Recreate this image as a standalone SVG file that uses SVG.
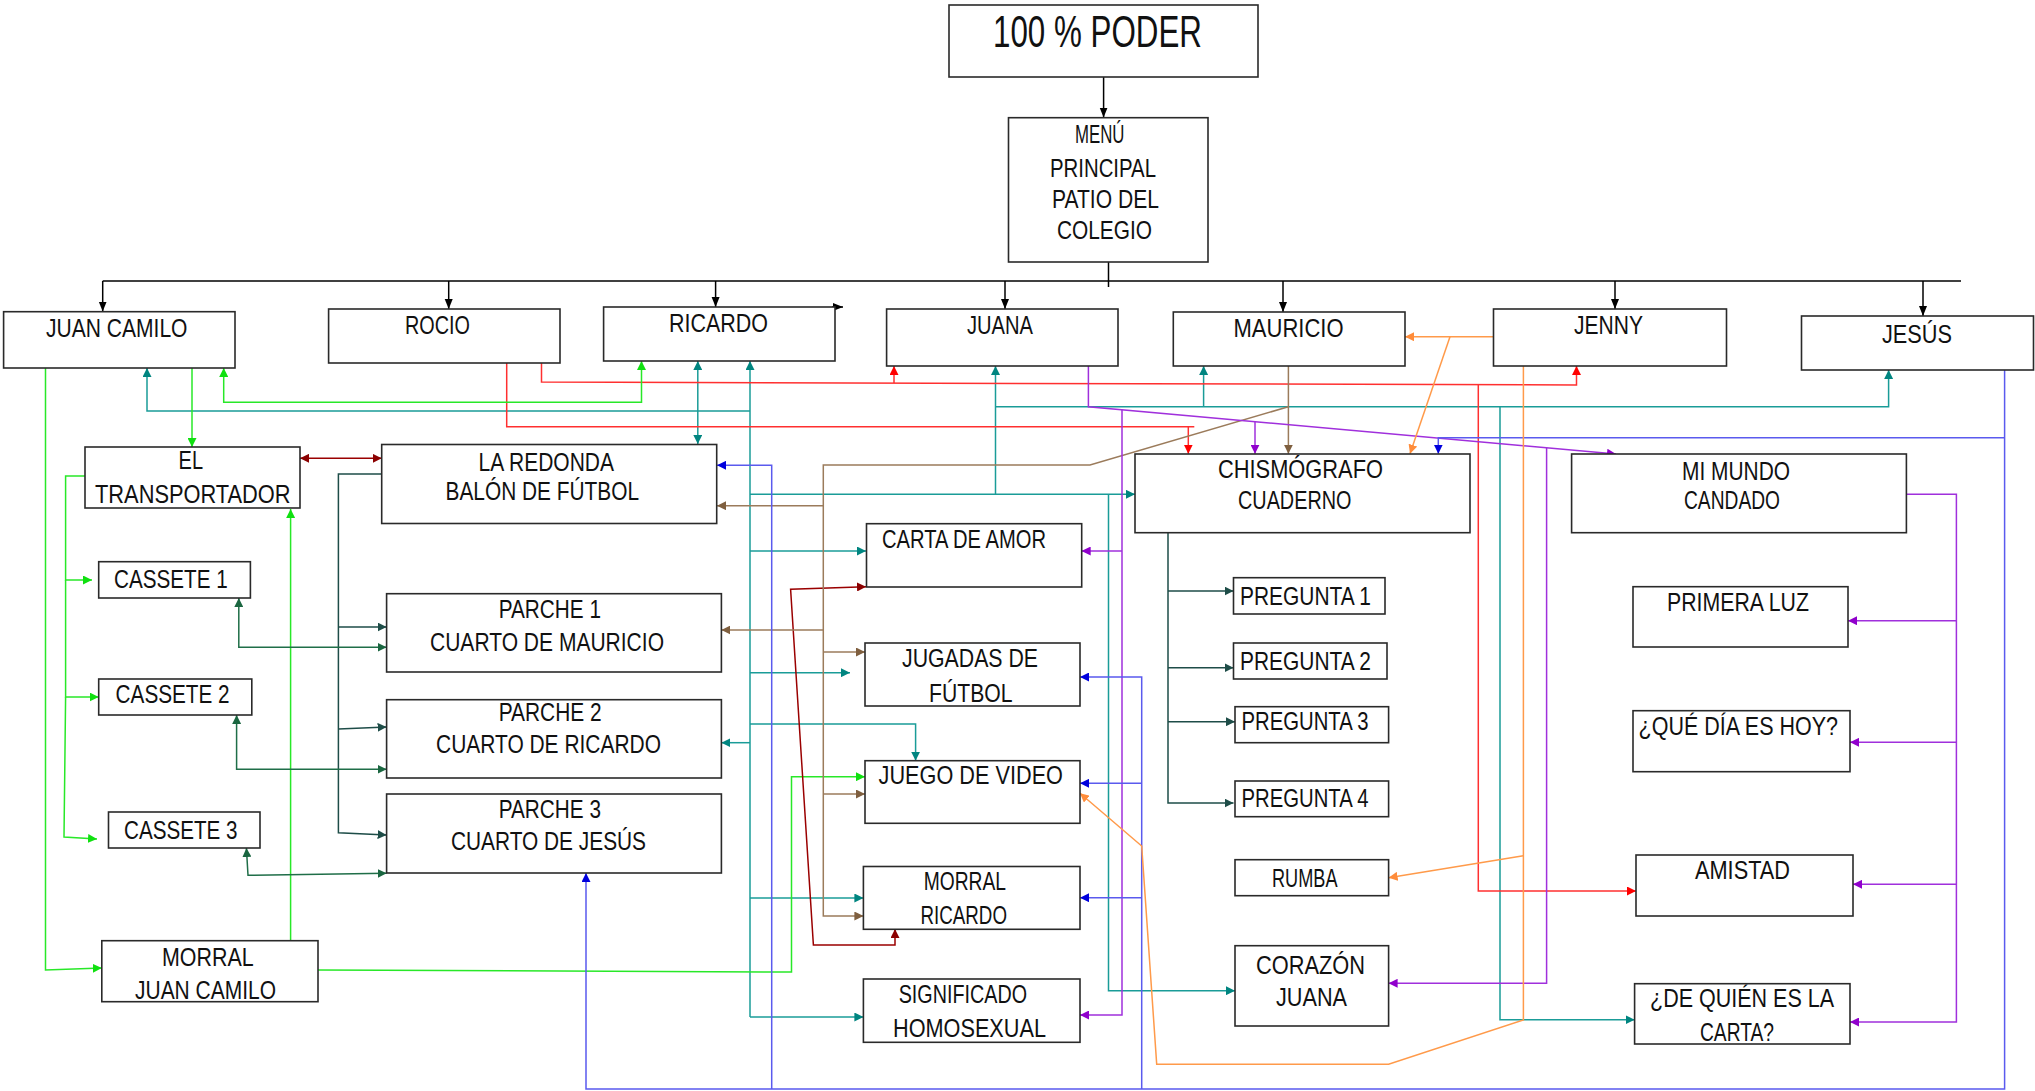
<svg xmlns="http://www.w3.org/2000/svg" width="2035" height="1091" viewBox="0 0 2035 1091">
<style>
.box{fill:#fff;stroke:#2a2a2a;stroke-width:1.6}
.t{font-family:"Liberation Sans Narrow","Liberation Sans",Arial,sans-serif;font-size:25px;fill:#111}
.c{fill:none;stroke-width:1.5}
.k{stroke:#000}
.tl{stroke:#1a9c98}
.gr{stroke:#28e828}
.rd{stroke:#ff3030}
.mr{stroke:#9a0000}
.br{stroke:#9b7b5b}
.pu{stroke:#a030dc}
.bl{stroke:#5a5aee}
.or{stroke:#ff9a4a}
.ds{stroke:#1e4d48}
.dg{stroke:#1f6e48}
</style>
<defs>
<marker id="ak" viewBox="0 0 10 10" refX="10" refY="5" markerWidth="10" markerHeight="10" markerUnits="userSpaceOnUse" orient="auto-start-reverse"><path d="M0,1 L10,5 L0,9 z" fill="#000"/></marker>
<marker id="at" viewBox="0 0 10 10" refX="10" refY="5" markerWidth="9" markerHeight="9" markerUnits="userSpaceOnUse" orient="auto-start-reverse"><path d="M0,0 L10,5 L0,10 z" fill="#008580"/></marker>
<marker id="ag" viewBox="0 0 10 10" refX="10" refY="5" markerWidth="9" markerHeight="9" markerUnits="userSpaceOnUse" orient="auto-start-reverse"><path d="M0,0 L10,5 L0,10 z" fill="#10e010"/></marker>
<marker id="ar" viewBox="0 0 10 10" refX="10" refY="5" markerWidth="9" markerHeight="9" markerUnits="userSpaceOnUse" orient="auto-start-reverse"><path d="M0,0 L10,5 L0,10 z" fill="#ff0000"/></marker>
<marker id="am" viewBox="0 0 10 10" refX="10" refY="5" markerWidth="9" markerHeight="9" markerUnits="userSpaceOnUse" orient="auto-start-reverse"><path d="M0,0 L10,5 L0,10 z" fill="#8b0000"/></marker>
<marker id="ab" viewBox="0 0 10 10" refX="10" refY="5" markerWidth="9" markerHeight="9" markerUnits="userSpaceOnUse" orient="auto-start-reverse"><path d="M0,0 L10,5 L0,10 z" fill="#7f5f3f"/></marker>
<marker id="ap" viewBox="0 0 10 10" refX="10" refY="5" markerWidth="9" markerHeight="9" markerUnits="userSpaceOnUse" orient="auto-start-reverse"><path d="M0,0 L10,5 L0,10 z" fill="#9000cc"/></marker>
<marker id="abl" viewBox="0 0 10 10" refX="10" refY="5" markerWidth="9" markerHeight="9" markerUnits="userSpaceOnUse" orient="auto-start-reverse"><path d="M0,0 L10,5 L0,10 z" fill="#0000dd"/></marker>
<marker id="ao" viewBox="0 0 10 10" refX="10" refY="5" markerWidth="9" markerHeight="9" markerUnits="userSpaceOnUse" orient="auto-start-reverse"><path d="M0,0 L10,5 L0,10 z" fill="#ff8c3a"/></marker>
<marker id="ads" viewBox="0 0 10 10" refX="10" refY="5" markerWidth="9" markerHeight="9" markerUnits="userSpaceOnUse" orient="auto-start-reverse"><path d="M0,0 L10,5 L0,10 z" fill="#1e4d48"/></marker>
<marker id="adg" viewBox="0 0 10 10" refX="10" refY="5" markerWidth="9" markerHeight="9" markerUnits="userSpaceOnUse" orient="auto-start-reverse"><path d="M0,0 L10,5 L0,10 z" fill="#1a6640"/></marker>
</defs>
<rect width="2035" height="1091" fill="#fff"/>

<g id="connectors">
<!-- black -->
<path class="c k" d="M1103.6,77 V117.5" marker-end="url(#ak)"/>
<path class="c k" d="M1108.5,262 V287"/>
<path class="c k" d="M102.7,281 H1961"/>
<path class="c k" d="M102.7,281 V311.5" marker-end="url(#ak)"/>
<path class="c k" d="M448.7,281 V309" marker-end="url(#ak)"/>
<path class="c k" d="M715.6,281 V307" marker-end="url(#ak)"/>
<path class="c k" d="M1005,281 V309" marker-end="url(#ak)"/>
<path class="c k" d="M1283,281 V312" marker-end="url(#ak)"/>
<path class="c k" d="M1615,281 V309" marker-end="url(#ak)"/>
<path class="c k" d="M1923,281 V316" marker-end="url(#ak)"/>
<path class="c k" d="M832,307 H843" marker-end="url(#ak)"/>

<!-- teal -->
<path class="c tl" d="M750,1017 V361" marker-end="url(#at)"/>
<path class="c tl" d="M750,411 H147 V368" marker-end="url(#at)"/>
<path class="c tl" d="M750,551 H866" marker-end="url(#at)"/>
<path class="c tl" d="M750,672.7 H850" marker-end="url(#at)"/>
<path class="c tl" d="M750,494.3 H1135" marker-end="url(#at)"/>
<path class="c tl" d="M750,724 H915.6 V760.7" marker-end="url(#at)"/>
<path class="c tl" d="M750,742.7 H721.4" marker-end="url(#at)"/>
<path class="c tl" d="M750,898 H863.4" marker-end="url(#at)"/>
<path class="c tl" d="M750,1017 H863.4" marker-end="url(#at)"/>
<path class="c tl" d="M697.8,361 V444" marker-start="url(#at)" marker-end="url(#at)"/>
<path class="c tl" d="M995.5,494.3 V366" marker-end="url(#at)"/>
<path class="c tl" d="M995.5,406.7 H1888.6 V370" marker-end="url(#at)"/>
<path class="c tl" d="M1203.6,406.7 V366" marker-end="url(#at)"/>
<path class="c tl" d="M1500,406.7 V1019.7 H1634.6" marker-end="url(#at)"/>
<path class="c tl" d="M1108.5,494.3 V990.7 H1235" marker-end="url(#at)"/>

<!-- red -->
<path class="c rd" d="M541.5,363 V382 L1576.5,385 V366" marker-end="url(#ar)"/>
<path class="c rd" d="M894,383 V366" marker-end="url(#ar)"/>
<path class="c rd" d="M1478.3,384.5 V891 H1636" marker-end="url(#ar)"/>
<path class="c rd" d="M506.7,363 V426.7 H1194.3"/>
<path class="c rd" d="M1188.3,426.7 V453.7" marker-end="url(#ar)"/>

<!-- bright green -->
<path class="c gr" d="M45.5,368 V970 L101.8,968" marker-end="url(#ag)"/>
<path class="c gr" d="M192,368 V447" marker-end="url(#ag)"/>
<path class="c gr" d="M223.7,368 V402.3 H641.5 V361" marker-start="url(#ag)" marker-end="url(#ag)"/>
<path class="c gr" d="M85,476 H65.6 V580 H92" marker-end="url(#ag)"/>
<path class="c gr" d="M65.6,580 V697 H98.7" marker-end="url(#ag)"/>
<path class="c gr" d="M65.6,697 L64,837 L97,839" marker-end="url(#ag)"/>
<path class="c gr" d="M290.6,940 V509" marker-end="url(#ag)"/>
<path class="c gr" d="M318,970 L791.5,972 V776.7 H865" marker-end="url(#ag)"/>

<!-- dark slate -->
<path class="c ds" d="M381.7,474 H338.4 V832.7 L386.6,835" marker-end="url(#ads)"/>
<path class="c ds" d="M338.4,627 H386.6" marker-end="url(#ads)"/>
<path class="c ds" d="M338.4,729 L386.6,727" marker-end="url(#ads)"/>
<path class="c ds" d="M1168,532.7 V803 H1233.5" marker-end="url(#ads)"/>
<path class="c ds" d="M1168,591 H1233.5" marker-end="url(#ads)"/>
<path class="c ds" d="M1168,667.7 H1233.5" marker-end="url(#ads)"/>
<path class="c ds" d="M1168,721.7 H1235" marker-end="url(#ads)"/>

<!-- dark green -->
<path class="c dg" d="M238.8,598 V647.3 H386.6" marker-start="url(#adg)" marker-end="url(#adg)"/>
<path class="c dg" d="M236.6,715 V769.3 H386.6" marker-start="url(#adg)" marker-end="url(#adg)"/>
<path class="c dg" d="M246.4,848 L248,875.3 L386.6,873.3" marker-start="url(#adg)" marker-end="url(#adg)"/>

<!-- maroon -->
<path class="c mr" d="M300,458.3 H381.7" marker-start="url(#am)" marker-end="url(#am)"/>
<path class="c mr" d="M895,929 V945 H813.4 L790.6,589.3 L866,586.7" marker-start="url(#am)" marker-end="url(#am)"/>

<!-- brown -->
<path class="c br" d="M1288.4,366 V453.7" marker-end="url(#ab)"/>
<path class="c br" d="M1288.4,406.7 L1090,465 H823.3 V916 H863.4" marker-end="url(#ab)"/>
<path class="c br" d="M823.3,505.7 H717" marker-end="url(#ab)"/>
<path class="c br" d="M823.3,630 H721.4" marker-end="url(#ab)"/>
<path class="c br" d="M823.3,652 H865" marker-end="url(#ab)"/>
<path class="c br" d="M823.3,794 H865" marker-end="url(#ab)"/>

<!-- purple -->
<path class="c pu" d="M1088.4,366 V406.7 L1616,454" marker-end="url(#ap)"/>
<path class="c pu" d="M1122,409.8 V1015 H1080" marker-end="url(#ap)"/>
<path class="c pu" d="M1122,551 H1081.7" marker-end="url(#ap)"/>
<path class="c pu" d="M1255,421.7 V453.7" marker-end="url(#ap)"/>
<path class="c pu" d="M1546.6,448 V983.3 H1388.6" marker-end="url(#ap)"/>
<path class="c pu" d="M1906.4,494.3 H1956.4 V1022 H1850" marker-end="url(#ap)"/>
<path class="c pu" d="M1956.4,620.7 H1848" marker-end="url(#ap)"/>
<path class="c pu" d="M1956.4,742.3 H1850" marker-end="url(#ap)"/>
<path class="c pu" d="M1956.4,884.3 H1853" marker-end="url(#ap)"/>

<!-- blue -->
<path class="c bl" d="M2004.6,370 V1089 H586 V873" marker-end="url(#abl)"/>
<path class="c bl" d="M2004.6,437.7 H1438.3 V453.7" marker-end="url(#abl)"/>
<path class="c bl" d="M771.7,1089 V465.3 H717" marker-end="url(#abl)"/>
<path class="c bl" d="M1141.7,1089 V677 H1080" marker-end="url(#abl)"/>
<path class="c bl" d="M1141.7,783.3 H1080" marker-end="url(#abl)"/>
<path class="c bl" d="M1141.7,897.7 H1080" marker-end="url(#abl)"/>

<!-- orange -->
<path class="c or" d="M1493.5,336.7 H1405" marker-end="url(#ao)"/>
<path class="c or" d="M1450,336.7 L1410,453.7" marker-end="url(#ao)"/>
<path class="c or" d="M1523.4,366 V1020 L1388.6,1064.3 H1156.7 L1141.7,846 L1080,793.3" marker-end="url(#ao)"/>
<path class="c or" d="M1523.4,855.7 L1388.6,877.7" marker-end="url(#ao)"/>
</g>

<g id="n-poder"><rect class="box" x="949" y="5" width="309" height="72"/><text class="t" style="font-size:44px" x="993" y="46.7" textLength="209" lengthAdjust="spacingAndGlyphs">100 % PODER</text></g>
<g id="n-menu"><rect class="box" x="1008.5" y="117.7" width="199.5" height="144.3"/>
<text class="t" style="font-size:26px" x="1075" y="143" textLength="49.5" lengthAdjust="spacingAndGlyphs">MENÚ</text>
<text class="t" style="font-size:26px" x="1050" y="177" textLength="106" lengthAdjust="spacingAndGlyphs">PRINCIPAL</text>
<text class="t" style="font-size:26px" x="1052" y="208" textLength="107" lengthAdjust="spacingAndGlyphs">PATIO DEL</text>
<text class="t" style="font-size:26px" x="1057" y="239" textLength="95" lengthAdjust="spacingAndGlyphs">COLEGIO</text></g>

<g id="n-juancamilo"><rect class="box" x="3.6" y="311.7" width="231.4" height="56.3"/><text class="t" x="46" y="337" textLength="141.5" lengthAdjust="spacingAndGlyphs">JUAN CAMILO</text></g>
<g id="n-rocio"><rect class="box" x="328.6" y="309" width="231.4" height="54"/><text class="t" x="405" y="334" textLength="65" lengthAdjust="spacingAndGlyphs">ROCIO</text></g>
<g id="n-ricardo"><rect class="box" x="603.6" y="307" width="231.4" height="54"/><text class="t" x="669" y="332" textLength="99" lengthAdjust="spacingAndGlyphs">RICARDO</text></g>
<g id="n-juana"><rect class="box" x="886.6" y="309" width="231.4" height="57"/><text class="t" x="967" y="334" textLength="66" lengthAdjust="spacingAndGlyphs">JUANA</text></g>
<g id="n-mauricio"><rect class="box" x="1173.3" y="312" width="231.7" height="54"/><text class="t" x="1233.5" y="337" textLength="110" lengthAdjust="spacingAndGlyphs">MAURICIO</text></g>
<g id="n-jenny"><rect class="box" x="1493.5" y="309" width="233" height="57"/><text class="t" x="1574" y="334" textLength="69" lengthAdjust="spacingAndGlyphs">JENNY</text></g>
<g id="n-jesus"><rect class="box" x="1801.5" y="316" width="232" height="54"/><text class="t" x="1882" y="343" textLength="70" lengthAdjust="spacingAndGlyphs">JESÚS</text></g>

<g id="n-transportador"><rect class="box" x="85" y="447" width="215" height="61"/>
<text class="t" x="178.6" y="469" textLength="24.5" lengthAdjust="spacingAndGlyphs">EL</text>
<text class="t" x="95" y="503" textLength="195.6" lengthAdjust="spacingAndGlyphs">TRANSPORTADOR</text></g>
<g id="n-redonda"><rect class="box" x="381.7" y="444.5" width="335" height="79"/>
<text class="t" x="478.6" y="471" textLength="135.4" lengthAdjust="spacingAndGlyphs">LA REDONDA</text>
<text class="t" x="445.5" y="500" textLength="193.5" lengthAdjust="spacingAndGlyphs">BALÓN DE FÚTBOL</text></g>
<g id="n-cassete1"><rect class="box" x="98.7" y="561.7" width="151.7" height="36.3"/><text class="t" x="114" y="588" textLength="113.7" lengthAdjust="spacingAndGlyphs">CASSETE 1</text></g>
<g id="n-cassete2"><rect class="box" x="98.7" y="679" width="153.1" height="36"/><text class="t" x="115.6" y="703" textLength="114" lengthAdjust="spacingAndGlyphs">CASSETE 2</text></g>
<g id="n-cassete3"><rect class="box" x="108.5" y="812" width="151.5" height="36"/><text class="t" x="124" y="839" textLength="113.5" lengthAdjust="spacingAndGlyphs">CASSETE 3</text></g>
<g id="n-parche1"><rect class="box" x="386.6" y="593.7" width="334.8" height="78.3"/>
<text class="t" x="498.7" y="618" textLength="102.3" lengthAdjust="spacingAndGlyphs">PARCHE 1</text>
<text class="t" x="430" y="651" textLength="234" lengthAdjust="spacingAndGlyphs">CUARTO  DE  MAURICIO</text></g>
<g id="n-parche2"><rect class="box" x="386.6" y="699.7" width="334.8" height="78.3"/>
<text class="t" x="498.7" y="721" textLength="103" lengthAdjust="spacingAndGlyphs">PARCHE 2</text>
<text class="t" x="436" y="753" textLength="225" lengthAdjust="spacingAndGlyphs">CUARTO  DE  RICARDO</text></g>
<g id="n-parche3"><rect class="box" x="386.6" y="794" width="334.8" height="79"/>
<text class="t" x="498.7" y="818" textLength="102.3" lengthAdjust="spacingAndGlyphs">PARCHE 3</text>
<text class="t" x="451" y="850" textLength="195" lengthAdjust="spacingAndGlyphs">CUARTO  DE  JESÚS</text></g>
<g id="n-morraljc"><rect class="box" x="101.8" y="940.7" width="216.2" height="61"/>
<text class="t" x="162" y="965.7" textLength="91.6" lengthAdjust="spacingAndGlyphs">MORRAL</text>
<text class="t" x="135" y="999" textLength="141" lengthAdjust="spacingAndGlyphs">JUAN  CAMILO</text></g>

<g id="n-carta"><rect class="box" x="866.5" y="523.7" width="215.2" height="63.3"/><text class="t" x="882" y="548" textLength="164" lengthAdjust="spacingAndGlyphs">CARTA DE AMOR</text></g>
<g id="n-jugadas"><rect class="box" x="865" y="643" width="215" height="63"/>
<text class="t" x="902" y="667" textLength="136" lengthAdjust="spacingAndGlyphs">JUGADAS DE</text>
<text class="t" x="929" y="701.7" textLength="83.5" lengthAdjust="spacingAndGlyphs">FÚTBOL</text></g>
<g id="n-juego"><rect class="box" x="865" y="760.7" width="215" height="62.6"/><text class="t" x="878.6" y="784" textLength="184.4" lengthAdjust="spacingAndGlyphs">JUEGO  DE  VIDEO</text></g>
<g id="n-morralric"><rect class="box" x="863.4" y="866.5" width="216.6" height="62.8"/>
<text class="t" x="923.7" y="890" textLength="82.3" lengthAdjust="spacingAndGlyphs">MORRAL</text>
<text class="t" x="920.5" y="924" textLength="86.5" lengthAdjust="spacingAndGlyphs">RICARDO</text></g>
<g id="n-significado"><rect class="box" x="863.4" y="979" width="216.6" height="63.3"/>
<text class="t" x="898.7" y="1003" textLength="128.3" lengthAdjust="spacingAndGlyphs">SIGNIFICADO</text>
<text class="t" x="893" y="1037" textLength="153" lengthAdjust="spacingAndGlyphs">HOMOSEXUAL</text></g>

<g id="n-chismografo"><rect class="box" x="1135" y="454" width="335" height="78.7"/>
<text class="t" x="1218" y="478" textLength="165" lengthAdjust="spacingAndGlyphs">CHISMÓGRAFO</text>
<text class="t" x="1238" y="509" textLength="113.5" lengthAdjust="spacingAndGlyphs">CUADERNO</text></g>
<g id="n-preg1"><rect class="box" x="1233.5" y="577.7" width="151.5" height="36.3"/><text class="t" x="1240" y="605" textLength="131" lengthAdjust="spacingAndGlyphs">PREGUNTA  1</text></g>
<g id="n-preg2"><rect class="box" x="1233.5" y="643" width="153.5" height="36"/><text class="t" x="1240" y="670" textLength="131" lengthAdjust="spacingAndGlyphs">PREGUNTA  2</text></g>
<g id="n-preg3"><rect class="box" x="1235" y="706.7" width="153.6" height="36"/><text class="t" x="1241.5" y="730" textLength="127" lengthAdjust="spacingAndGlyphs">PREGUNTA 3</text></g>
<g id="n-preg4"><rect class="box" x="1235" y="781" width="153.6" height="35.7"/><text class="t" x="1241.5" y="807" textLength="127" lengthAdjust="spacingAndGlyphs">PREGUNTA 4</text></g>
<g id="n-rumba"><rect class="box" x="1235" y="859.7" width="153.6" height="36"/><text class="t" x="1272" y="887" textLength="65.5" lengthAdjust="spacingAndGlyphs">RUMBA</text></g>
<g id="n-corazon"><rect class="box" x="1235" y="945.7" width="153.6" height="80.3"/>
<text class="t" x="1256" y="974" textLength="109" lengthAdjust="spacingAndGlyphs">CORAZÓN</text>
<text class="t" x="1276" y="1005.7" textLength="71" lengthAdjust="spacingAndGlyphs">JUANA</text></g>

<g id="n-mimundo"><rect class="box" x="1571.6" y="454" width="334.8" height="78.7"/>
<text class="t" x="1682" y="480" textLength="108" lengthAdjust="spacingAndGlyphs">MI MUNDO</text>
<text class="t" x="1684" y="509" textLength="96" lengthAdjust="spacingAndGlyphs">CANDADO</text></g>
<g id="n-primeraluz"><rect class="box" x="1633" y="586.7" width="215" height="60.3"/><text class="t" x="1667" y="610.7" textLength="142" lengthAdjust="spacingAndGlyphs">PRIMERA LUZ</text></g>
<g id="n-quedia"><rect class="box" x="1633" y="710.7" width="217" height="61"/><text class="t" x="1638.6" y="735" textLength="199.4" lengthAdjust="spacingAndGlyphs">¿QUÉ  DÍA  ES  HOY?</text></g>
<g id="n-amistad"><rect class="box" x="1636" y="855" width="217" height="61"/><text class="t" x="1695" y="879" textLength="95" lengthAdjust="spacingAndGlyphs">AMISTAD</text></g>
<g id="n-dequien"><rect class="box" x="1634.6" y="983.7" width="215.4" height="60.3"/>
<text class="t" x="1650" y="1007" textLength="184" lengthAdjust="spacingAndGlyphs">¿DE  QUIÉN  ES  LA</text>
<text class="t" x="1700" y="1040.7" textLength="74" lengthAdjust="spacingAndGlyphs">CARTA?</text></g>
</svg>
